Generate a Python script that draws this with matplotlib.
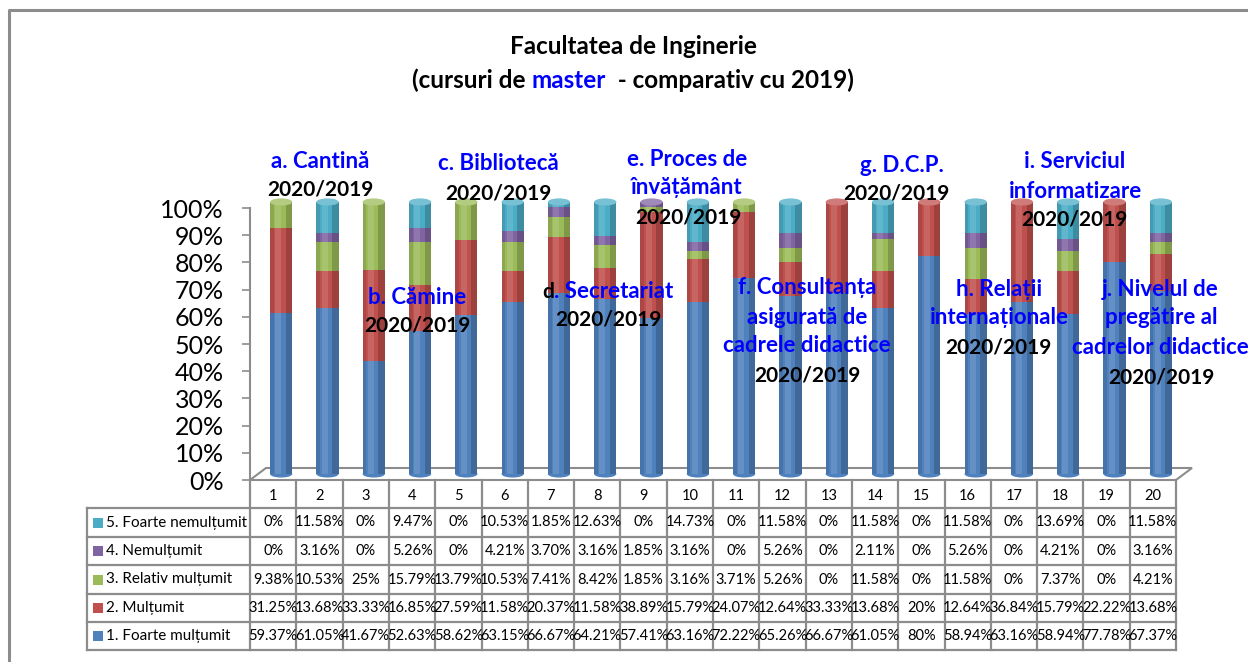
import matplotlib
matplotlib.use("Agg")
import matplotlib.pyplot as plt
from matplotlib import transforms
from matplotlib.patches import Ellipse, Polygon

W, H = 1248, 662

categories = [str(i) for i in range(1, 21)]
series_names = ["1. Foarte mulțumit", "2. Mulțumit", "3. Relativ mulțumit",
                "4. Nemulțumit", "5. Foarte nemulțumit"]
foarte_multumit = [59.37, 61.05, 41.67, 52.63, 58.62, 63.15, 66.67, 64.21, 57.41, 63.16,
                   72.22, 65.26, 66.67, 61.05, 80, 58.94, 63.16, 58.94, 77.78, 67.37]
multumit = [31.25, 13.68, 33.33, 16.85, 27.59, 11.58, 20.37, 11.58, 38.89, 15.79,
            24.07, 12.64, 33.33, 13.68, 20, 12.64, 36.84, 15.79, 22.22, 13.68]
relativ_multumit = [9.38, 10.53, 25, 15.79, 13.79, 10.53, 7.41, 8.42, 1.85, 3.16,
                    3.71, 5.26, 0, 11.58, 0, 11.58, 0, 7.37, 0, 4.21]
nemultumit = [0, 3.16, 0, 5.26, 0, 4.21, 3.70, 3.16, 1.85, 3.16,
              0, 5.26, 0, 2.11, 0, 5.26, 0, 4.21, 0, 3.16]
foarte_nemultumit = [0, 11.58, 0, 9.47, 0, 10.53, 1.85, 12.63, 0, 14.73,
                     0, 11.58, 0, 11.58, 0, 11.58, 0, 13.69, 0, 11.58]
series_values = [foarte_multumit, multumit, relativ_multumit, nemultumit, foarte_nemultumit]
colors = ["#4F81BD", "#C0504D", "#9BBB59", "#8064A2", "#4BACC6"]
y_ticks = list(range(0, 101, 10))
y_tick_labels = [f"{t}%" for t in y_ticks]

title_line1 = "Facultatea de Inginerie"
title_line2 = [("(cursuri de ", "black"), ("master", "#0000FF"), ("  - comparativ cu 2019)", "black")]

BLUE = "#0000FF"
# (center_x_px, center_y_px, [(text, color), ...])
annotations = [
    (320, 162, [("a. Cantină", BLUE)]), (320, 190, [("2020/2019", "black")]),
    (417, 297, [("b. Cămine", BLUE)]), (417, 326, [("2020/2019", "black")]),
    (498, 164, [("c. Bibliotecă", BLUE)]), (498, 193, [("2020/2019", "black")]),
    (608, 292, [("d", "black"), (". Secretariat", BLUE)]), (608, 320, [("2020/2019", "black")]),
    (687, 160, [("e. Proces de", BLUE)]), (687, 188, [("învățământ", BLUE)]),
    (688, 217, [("2020/2019", "black")]),
    (807, 288, [("f. Consultanța", BLUE)]), (807, 317, [("asigurată de", BLUE)]),
    (807, 345, [("cadrele didactice", BLUE)]), (807, 375, [("2020/2019", "black")]),
    (902, 165, [("g. D.C.P.", BLUE)]), (896, 193, [("2020/2019", "black")]),
    (999, 290, [("h. Relații", BLUE)]), (999, 318, [("internaționale", BLUE)]),
    (998, 347, [("2020/2019", "black")]),
    (1075, 162, [("i. Serviciul", BLUE)]), (1075, 191, [("informatizare", BLUE)]),
    (1074, 220, [("2020/2019", "black")]),
    (1160, 290, [("j. Nivelul de", BLUE)]), (1161, 318, [("pregătire al", BLUE)]),
    (1160, 347, [("cadrelor didactice", BLUE)]), (1161, 377, [("2020/2019", "black")]),
]

plt.rcParams['font.family'] = ['Lato', 'Noto Sans', 'DejaVu Sans']

fig = plt.figure(figsize=(W / 100, H / 100), dpi=100)
fig.patch.set_facecolor("white")


def fx(x):
    return x / W


def fy(y):
    return 1 - y / H


AX_L, AX_R, AX_T, AX_B = 250, 1176, 208, 480
ax = fig.add_axes([fx(AX_L), fy(AX_B), (AX_R - AX_L) / W, (AX_B - AX_T) / H])
ax.set_xlim(-0.5, len(categories) - 0.5)
ax.set_ylim(0, 100)
ax.set_facecolor("none")
for s in ["top", "right", "bottom"]:
    ax.spines[s].set_visible(False)
ax.spines["left"].set_color("#8c8c8c")
ax.spines["left"].set_linewidth(1.5)
ax.set_xticks([])
ax.set_yticks(y_ticks)
ax.set_yticklabels(y_tick_labels)
ax.tick_params(axis="y", length=6, width=1.2, color="#8c8c8c", labelsize=18, pad=13)

ov = fig.add_axes([0, 0, 1, 1], zorder=5)
ov.set_xlim(0, W)
ov.set_ylim(H, 0)
ov.axis("off")
ov.set_facecolor("none")

# floor (3D look)
floor = Polygon([(AX_L, AX_B), (AX_R, AX_B), (AX_R + 16, AX_B - 12), (AX_L + 16, AX_B - 12)],
                closed=True, facecolor="white", edgecolor="#8c8c8c", lw=1.5, zorder=0)
bg = fig.add_axes([0, 0, 1, 1], zorder=-1)
bg.set_xlim(0, W)
bg.set_ylim(H, 0)
bg.axis("off")
bg.add_patch(floor)

# bars (cylinders)
btr = transforms.offset_copy(ax.transData, fig=fig, x=8, y=6, units="dots")
bw = 0.48
xs = list(range(len(categories)))
bottoms = [0.0] * len(categories)
for vals, col in zip(series_values, colors):
    ax.bar(xs, vals, bw, bottom=bottoms, color=col, transform=btr, clip_on=False,
           linewidth=0, zorder=2)
    bottoms = [b + v for b, v in zip(bottoms, vals)]
totals = bottoms
# shading
ax.bar([x - bw / 2 + 0.04 for x in xs], totals, 0.08, color="black", alpha=0.10,
       transform=btr, clip_on=False, linewidth=0, zorder=3)
ax.bar([x + bw / 2 - 0.07 for x in xs], totals, 0.14, color="black", alpha=0.18,
       transform=btr, clip_on=False, linewidth=0, zorder=3)
ax.bar([x - 0.06 for x in xs], totals, 0.13, color="white", alpha=0.12,
       transform=btr, clip_on=False, linewidth=0, zorder=3)
# caps
for i in xs:
    top_col = colors[0]
    for vals, col in zip(series_values, colors):
        if vals[i] > 0:
            top_col = col
    ax.add_patch(Ellipse((i, 0), bw, 2.6, facecolor=colors[0], edgecolor="none",
                         transform=btr, clip_on=False, zorder=1.9))
    ax.add_patch(Ellipse((i, totals[i]), bw, 2.6, facecolor=top_col, edgecolor="none",
                         transform=btr, clip_on=False, zorder=4))
    ax.add_patch(Ellipse((i, totals[i]), bw, 2.6, facecolor="white", alpha=0.25,
                         edgecolor="none", transform=btr, clip_on=False, zorder=4.1))

# border
ov.plot([9, 9, W + 5], [H + 5, 10, 10], color="#8c8c8c", lw=2.2, clip_on=False)

# table
fig.canvas.draw()
edges = [ax.transData.transform((i - 0.5, 0))[0] for i in range(len(categories) + 1)]
row_edges = [508, 537, 565, 594, 622, 650]
TBL_L = 87
lc = "#8c8c8c"
for e in edges:
    ov.plot([e, e], [AX_B, row_edges[-1]], color=lc, lw=1.6)
ov.plot([TBL_L, TBL_L], [row_edges[0], row_edges[-1]], color=lc, lw=1.6)
for r in row_edges:
    ov.plot([TBL_L, edges[-1]], [r, r], color=lc, lw=1.6)
for i, c in enumerate(categories):
    ov.text((edges[i] + edges[i + 1]) / 2, (AX_B + row_edges[0]) / 2 + 2, c,
            ha="center", va="center", fontsize=10.5)


def fmt(v):
    return f"{int(v)}%" if float(v).is_integer() else f"{v:.2f}%"


for r, si in enumerate(range(len(series_values) - 1, -1, -1)):
    yc = (row_edges[r] + row_edges[r + 1]) / 2
    ov.add_patch(plt.Rectangle((93, yc - 5), 10, 10, facecolor=colors[si], edgecolor="none"))
    ov.text(106, yc, series_names[si], ha="left", va="center", fontsize=11)
    for i, v in enumerate(series_values[si]):
        ov.text((edges[i] + edges[i + 1]) / 2, yc, fmt(v), ha="center", va="center",
                fontsize=10.5)


def multi_text(cx, cy, pieces, **kw):
    fig.canvas.draw()
    r = fig.canvas.get_renderer()
    arts = []
    for t, col in pieces:
        size = kw.get("fontsize", 15)
        if col != "black" and kw.get("blue_size"):
            size = kw["blue_size"]
        arts.append(ov.text(0, cy, t, color=col, ha="left", va="center",
                            fontsize=size, fontweight="bold"))
    widths = []
    inv = ov.transData.inverted()
    for a in arts:
        bb = a.get_window_extent(renderer=r)
        p0 = inv.transform((bb.x0, bb.y0))
        p1 = inv.transform((bb.x1, bb.y1))
        widths.append(p1[0] - p0[0])
    x = cx - sum(widths) / 2
    for a, w in zip(arts, widths):
        a.set_x(x)
        x += w
    return arts


multi_text(633, 47, [(title_line1, "black")], fontsize=17.5)
multi_text(633, 80, title_line2, fontsize=17.5)
for cx, cy, pieces in annotations:
    multi_text(cx, cy, pieces, fontsize=15, blue_size=16)

fig.savefig("out.png", dpi=100)
